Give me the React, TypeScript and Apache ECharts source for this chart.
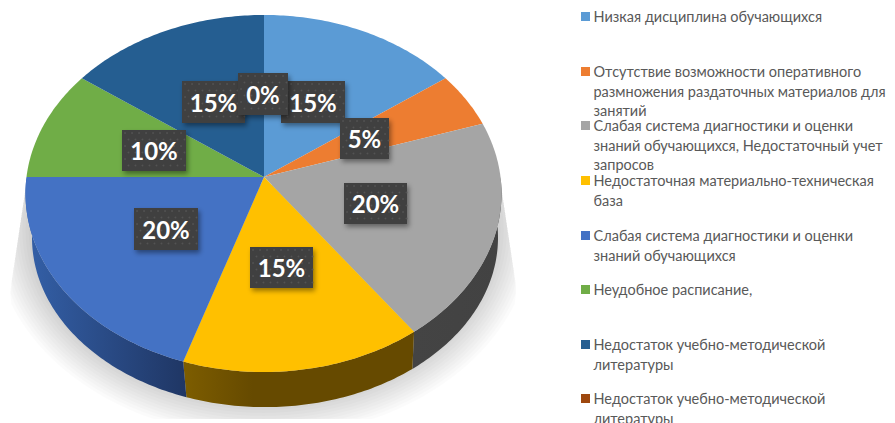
import React, { useEffect, useRef } from "react";
import * as echarts from "echarts";

const categories = [
  "Низкая дисциплина обучающихся",
  "Отсутствие возможности оперативного\nразмножения раздаточных материалов для\nзанятий",
  "Слабая система диагностики и оценки\nзнаний обучающихся, Недостаточный учет\nзапросов",
  "Недостаточная материально-техническая\nбаза",
  "Слабая система диагностики и оценки\nзнаний обучающихся",
  "Неудобное расписание,",
  "Недостаток учебно-методической\nлитературы",
  "Недостаток учебно-методической\nлитературы",
];
const values = [15, 5, 20, 15, 20, 10, 15, 0];
const colors = ["#5b9bd5", "#ed7d31", "#a5a5a5", "#ffc000", "#4472c4", "#70ad47", "#255e91", "#9e480e"];
const wallColors: [string, string][] = [
  ["#5b9bd5", "#5b9bd5"],
  ["#ed7d31", "#ed7d31"],
  ["#444444", "#424242"],
  ["#7d5d00", "#664a00"],
  ["#3460a8", "#1f3664"],
  ["#70ad47", "#70ad47"],
  ["#255e91", "#255e91"],
  ["#9e480e", "#9e480e"],
];
const labelTexts = ["15%", "5%", "20%", "15%", "20%", "10%", "15%", "0%"];
const labelBoxes = [
  [281, 81, 64, 42],
  [340, 118, 49, 41],
  [344, 183, 63, 41],
  [250, 247, 63, 41],
  [134, 208, 64, 42],
  [122, 130, 64, 41],
  [182, 81, 63, 42],
  [238, 73, 50, 42],
];
const legendIconY = [12, 67, 121, 176, 231, 285, 340, 394];

const KEY = 0.0924;
const HUB: [number, number] = [264, 177];
type Ring = { cx: number; cy: number; rx: number; ry: number };
const TOP: Ring = { cx: 263.5, cy: 177, rx: 237, ry: 177 };
const BOTTOM: Ring = { cx: 265, cy: 222, rx: 232, ry: 168 };

const total = values.reduce((a, b) => a + b, 0);
const angleOf = (v: number) => (v / total) * Math.PI * 2;
const project = (r: Ring, a: number, lean: number): [number, number] => {
  const u = Math.sin(a);
  const v = Math.cos(a);
  const s = 1 / (1 + KEY * v);
  const x = r.cx + r.rx * u * s + (v > 0 ? lean * v * v : 0);
  return [x, r.cy - r.ry * v * s];
};
const arc = (r: Ring, a0: number, a1: number, lean = 0) => {
  const pts: [number, number][] = [];
  const n = Math.max(2, Math.ceil((a1 - a0) / 0.015));
  for (let i = 0; i <= n; i++) pts.push(project(r, a0 + ((a1 - a0) * i) / n, lean));
  return pts;
};
const startOf = (idx: number) => angleOf(values.slice(0, idx).reduce((a, b) => a + b, 0));

const wallItem = (params: any, api: any) => {
  const i = params.dataIndex;
  const end = startOf(i) + angleOf(api.value(0));
  const a0 = Math.max(startOf(i), Math.PI / 2);
  const a1 = Math.min(end, Math.PI * 1.5);
  if (a1 <= a0) return { type: "group", children: [] };
  const pts = arc(TOP, a0, a1).concat(arc(BOTTOM, a0, a1).reverse());
  const [c0, c1] = wallColors[i];
  return {
    type: "polygon",
    shape: { points: pts },
    style: {
      fill: {
        type: "linear",
        x: 0,
        y: 0,
        x2: 1,
        y2: 0,
        colorStops: [
          { offset: 0, color: c0 },
          { offset: i === 3 ? 0.3 : 1, color: c1 },
          { offset: 1, color: c1 },
        ],
      },
    },
  };
};

const faceItem = (params: any, api: any) => {
  const i = params.dataIndex;
  const a0 = startOf(i);
  const a1 = a0 + angleOf(api.value(0));
  if (a1 <= a0) return { type: "group", children: [] };
  const pts = [HUB as [number, number]].concat(arc(TOP, a0, a1, 0.5));
  return { type: "polygon", shape: { points: pts }, style: { fill: colors[i] } };
};

const labelItem = (params: any) => {
  const i = params.dataIndex;
  const [x, y, w, h] = labelBoxes[i];
  const children: any[] = [
    {
      type: "rect",
      shape: { x, y, width: w, height: h },
      style: { fill: "#404040", shadowBlur: 5, shadowOffsetX: 2, shadowOffsetY: 3, shadowColor: "rgba(0,0,0,0.4)" },
    },
  ];
  for (let py = y + 3, row = 0; py < y + h; py += 6.5, row++) {
    for (let px = x + 3 + (row % 2) * 3.5; px < x + w; px += 7) {
      children.push({ type: "circle", silent: true, shape: { cx: px, cy: py, r: 0.9 }, style: { fill: "#535353" } });
    }
  }
  children.push({
    type: "text",
    style: {
      x: x + w / 2,
      y: y + h / 2,
      text: labelTexts[i],
      fill: "#ffffff",
      font: '700 24px Lato, "Open Sans", sans-serif',
      align: "center",
      verticalAlign: "middle",
    },
  });
  return { type: "group", children };
};

// soft ground shadow: stacked translucent outlines clipped to the shadow's trapezoid
const shadowLayers = () => {
  const layers: any[] = [];
  for (let k = 0; k < 14; k++) {
    const rx = 228 + k * 3.2;
    const bottom = 398 + k * 3;
    const cy = 230;
    const ry = bottom - cy;
    const pts: [number, number][] = [];
    for (let t = 0; t <= 120; t++) {
      const a = (Math.PI * 2 * t) / 120;
      let x = 263 + rx * Math.cos(a);
      let y = cy + ry * Math.sin(a);
      y = Math.min(419, Math.max(185, y));
      const minX = 26 - Math.min(105, y - 185) * 0.15;
      const maxX = 501 + Math.min(100, y - 185) * 0.15;
      x = Math.min(maxX, Math.max(minX, x));
      pts.push([x, y]);
    }
    layers.push({ type: "polygon", silent: true, shape: { points: pts }, style: { fill: "rgba(0,0,0,0.017)" } });
  }
  return layers;
};

export default function App() {
  const ref = useRef<HTMLDivElement>(null);
  useEffect(() => {
    document.body.style.margin = "0";
    const chart = echarts.init(ref.current!, undefined, { renderer: "svg" });
    const seriesData = values.map((v, i) => ({ name: labelTexts[i], value: [v] }));
    const legendGraphics: any[] = [];
    categories.forEach((name, i) => {
      legendGraphics.push({ type: "rect", shape: { x: 581, y: legendIconY[i], width: 9, height: 9 }, style: { fill: colors[i] } });
      name.split("\n").forEach((line, k) => {
        legendGraphics.push({
          type: "text",
          style: {
            x: 593.5,
            y: legendIconY[i] + 4.5 + k * 19.6,
            text: line,
            fill: "#595959",
            font: '14.5px Lato, "Open Sans", sans-serif',
            verticalAlign: "middle",
          },
        });
      });
    });
    chart.setOption({
      animation: false,
      backgroundColor: "#ffffff",
      graphic: [...shadowLayers(), ...legendGraphics],
      series: [
        { type: "custom", coordinateSystem: "none", renderItem: wallItem, data: seriesData, silent: true, z: 2 },
        { type: "custom", coordinateSystem: "none", renderItem: faceItem, data: seriesData, silent: true, z: 3 },
        { type: "custom", coordinateSystem: "none", renderItem: labelItem, data: seriesData, silent: true, z: 4 },
      ],
    });
    return () => chart.dispose();
  }, []);
  return <div ref={ref} style={{ width: 895, height: 423 }} />;
}
